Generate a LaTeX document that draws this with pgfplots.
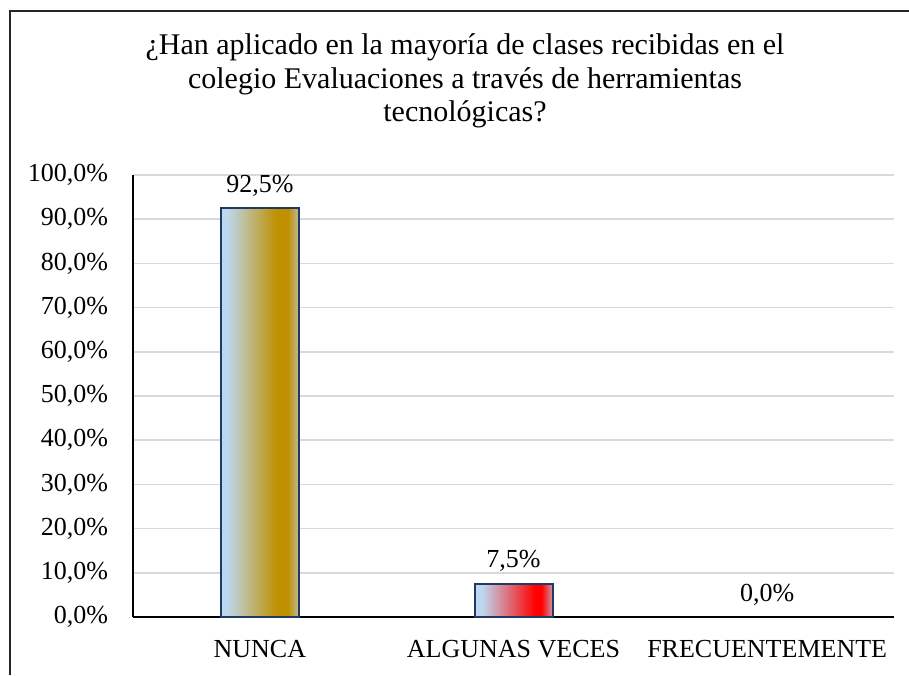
\documentclass[border=0pt]{standalone}
\usepackage{fontspec}
\setmainfont{Liberation Serif}
\usepackage{pgfplots}
\pgfplotsset{compat=1.18}

\definecolor{lb}{HTML}{BDD7EE}
\definecolor{goldc}{HTML}{BF9000}
\definecolor{redc}{HTML}{FF0000}
\definecolor{navy}{HTML}{1F3864}
\definecolor{gridc}{HTML}{D9D9D9}

% bars shade from left to right; the bar spans 25bp..75bp of the shading
\pgfdeclarehorizontalshading{goldbar}{100bp}{color(0bp)=(lb); color(25bp)=(lb); color(29bp)=(lb);
  color(61bp)=(goldc); color(68bp)=(goldc); color(75bp)=(lb!65!goldc); color(100bp)=(lb!65!goldc)}
\pgfdeclarehorizontalshading{redbar}{100bp}{color(0bp)=(lb); color(25bp)=(lb); color(30bp)=(lb);
  color(64bp)=(redc); color(68bp)=(redc); color(75bp)=(lb!70!redc); color(100bp)=(lb!70!redc)}

\begin{document}
\begin{tikzpicture}
\path[use as bounding box] (0,0) rectangle (454.5pt,337.5pt);
\draw[line width=1pt, black!85] (5pt,0) -- (5pt,332pt) -- (454.5pt,332pt);
\node[align=center, font=\fontsize{15}{16.75}\selectfont] at (232.5pt,297pt)
  {¿Han aplicado en la mayoría de clases recibidas en el\\colegio Evaluaciones a través de herramientas\\tecnológicas?};
\begin{axis}[
  at={(66.5pt,29pt)}, anchor=south west,
  scale only axis, width=380.5pt, height=221pt,
  xmin=-0.5, xmax=2.5, ymin=0, ymax=100,
  axis x line=bottom, axis y line=left,
  axis line style={-, line width=0.9pt, black},
  major tick length=0pt,
  xtick={0,1,2}, xticklabels={NUNCA,ALGUNAS VECES,FRECUENTEMENTE},
  ytick={0,10,...,100},
  yticklabels={{0,0\%},{10,0\%},{20,0\%},{30,0\%},{40,0\%},{50,0\%},{60,0\%},{70,0\%},{80,0\%},{90,0\%},{100,0\%}},
  tick label style={font=\fontsize{13}{15}\selectfont},
  xticklabel style={yshift=-8pt},
  yticklabel style={xshift=-9pt},
  ymajorgrids, grid style={gridc, line width=0.8pt},
  ybar, bar width=39pt, bar shift=0pt,
  nodes near coords={\pgfmathprintnumber[fixed,fixed zerofill,precision=1,use comma,assume math mode=true]{\pgfplotspointmeta}\%},
  nodes near coords style={font=\fontsize{13}{15}\selectfont, anchor=base, inner sep=0pt, yshift=8pt, text=black},
]
\addplot[draw=navy, line width=1pt, shading=goldbar] coordinates {(0,92.5)};
\addplot[draw=navy, line width=1pt, shading=redbar] coordinates {(1,7.5)};
\addplot[draw=none, fill=none] coordinates {(2,0)};
\end{axis}
\end{tikzpicture}
\end{document}
